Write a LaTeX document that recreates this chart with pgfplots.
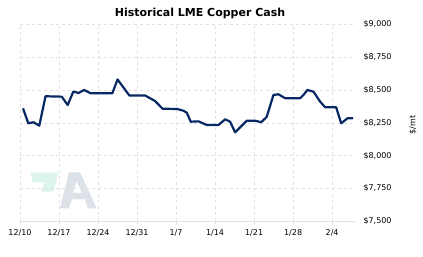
\documentclass[border=0pt]{standalone}
\usepackage{fontspec}
\setmainfont{DejaVu Sans}
\usepackage{pgfplots}
\pgfplotsset{compat=1.18}
\definecolor{navy}{RGB}{8,40,100}
\definecolor{gridc}{RGB}{225,225,225}
\definecolor{wmgreen}{RGB}{220,245,235}
\definecolor{wmgray}{RGB}{221,225,232}
\begin{document}
\begin{tikzpicture}[x=1pt,y=1pt]
\path[fill=white,use as bounding box] (0,0) rectangle (423,257);
% watermark
\fill[wmgreen] (30,84.7) -- (58.3,84.7) -- (53.3,65.3) -- (41,65.3) -- (45,74.7) -- (33,74.7) -- cycle;
\fill[wmgray,even odd rule] (60,48.7) -- (69,84.7) -- (80,84.7) -- (96.7,48.7) -- (87.7,48.7) -- (85,57.5) -- (72,57.5) -- (68.7,48.7) -- cycle
  (76.5,76) -- (82,64) -- (73,64) -- cycle;
\begin{axis}[
  at={(20pt,35.7pt)}, anchor=south west,
  scale only axis, width=335pt, height=196.8pt,
  xmin=0, xmax=60.1, ymin=7500, ymax=9000,
  axis line style={draw=none},
  xtick pos=bottom,
  xtick={0,7,14,21,28,35,42,49,56},
  xticklabels={12/10,12/17,12/24,12/31,1/7,1/14,1/21,1/28,2/4},
  ytick={7500,7750,8000,8250,8500,8750,9000},
  yticklabels={{\$7,500},{\$7,750},{\$8,000},{\$8,250},{\$8,500},{\$8,750},{\$9,000}},
  yticklabel pos=right,
  ytick style={draw=none},
  xtick style={draw=gridc,line width=0.8pt},
  tick align=outside, major tick length=3pt,
  grid=major,
  major grid style={draw=gridc,dash pattern=on 3pt off 3pt,line width=0.6pt},
  tick label style={font=\fontsize{8}{9}\selectfont},
  yticklabel style={anchor=west,xshift=2pt},
  xticklabel style={yshift=-2pt},
  clip=false,
]
\draw[gridc,line width=1pt] (rel axis cs:0,0) -- (rel axis cs:1,0);
\addplot[navy,line width=2.2pt,line join=round] coordinates {
(0.54,8361) (1.49,8247) (2.42,8255) (3.46,8229) (4.58,8453) (7.49,8450)
(8.56,8386) (9.57,8489) (10.5,8478) (11.49,8501) (12.65,8476) (16.57,8476)
(17.5,8581) (19.62,8459) (22.44,8459) (24.23,8417) (25.58,8358) (28.18,8356)
(29.31,8343) (29.92,8328) (30.64,8259) (32.0,8262) (33.51,8234) (35.6,8234)
(36.8,8277) (37.7,8259) (38.59,8178) (40.69,8267) (42.18,8267) (43.26,8255)
(44.25,8295) (45.47,8463) (46.37,8468) (47.57,8438) (50.26,8438) (50.85,8463)
(51.57,8501) (52.65,8488) (53.85,8412) (54.75,8369) (56.72,8369) (57.62,8247)
(58.75,8285) (59.77,8285)
};
\end{axis}
\node[font=\fontsize{11}{13}\selectfont\bfseries] at (200,244) {Historical LME Copper Cash};
\node[rotate=90,font=\fontsize{8}{9}\selectfont] at (413,132) {\$/mt};
\end{tikzpicture}
\end{document}
